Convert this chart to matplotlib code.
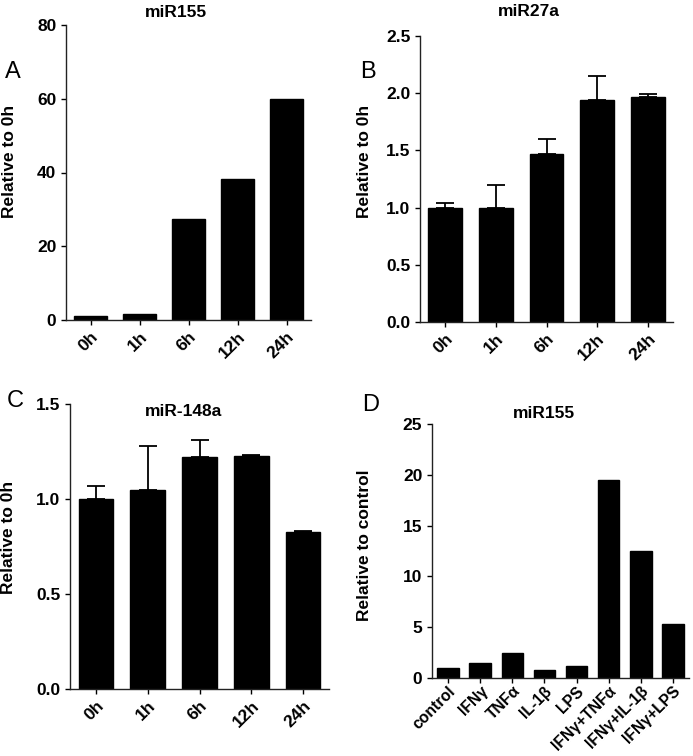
import matplotlib
matplotlib.use("Agg")
import matplotlib.pyplot as plt
import numpy as np

plt.rcParams['font.family'] = ['Liberation Sans', 'DejaVu Sans']
plt.rcParams['font.weight'] = 'bold'

time_labels = ['0h', '1h', '6h', '12h', '24h']

a_values = [1.0, 1.6, 27.5, 38.3, 60.0]

b_values = [1.00, 1.00, 1.47, 1.94, 1.97]
b_err = [0.04, 0.20, 0.13, 0.21, 0.02]

c_values = [1.00, 1.05, 1.22, 1.225, 0.825]
c_err = [0.07, 0.23, 0.09, 0.005, 0.004]

d_labels = ['control', 'IFNγ', 'TNFα', 'IL-1β', 'LPS',
            'IFNγ+TNFα', 'IFNγ+IL-1β', 'IFNγ+LPS']
d_values = [1.0, 1.45, 2.45, 0.8, 1.2, 19.5, 12.5, 5.3]

W, H = 693, 756
fig = plt.figure(figsize=(W/100, H/100), dpi=100)


def px_axes(left, right, top, bottom):
    return fig.add_axes([left/W, (H-bottom)/H, (right-left)/W, (bottom-top)/H])


def style(ax, labels, ylim, yticks, ylabel, fs=12.5):
    for s in ['top', 'right']:
        ax.spines[s].set_visible(False)
    for s in ['left', 'bottom']:
        ax.spines[s].set_linewidth(1.0)
        ax.spines[s].set_color('#222222')
    ax.set_xlim(-0.5, len(labels) - 0.5)
    ax.set_ylim(*ylim)
    ax.set_yticks(yticks)
    ax.set_xticks(np.arange(len(labels)))
    ax.set_xticklabels(labels, rotation=45, ha='right', rotation_mode='anchor',
                       fontsize=fs, fontweight='bold')
    ax.tick_params(axis='both', direction='out', length=3.5, width=1.0,
                   labelsize=12.5, colors='black')
    ax.tick_params(axis='x', labelsize=fs, pad=3)
    for t in ax.get_yticklabels():
        t.set_fontweight('bold')
    ax.set_ylabel(ylabel, fontsize=12.5, fontweight='bold')


def bars(ax, vals, err=None):
    x = np.arange(len(vals))
    ax.bar(x, vals, width=0.67, color='black', edgecolor='black', zorder=2)
    if err is not None:
        ax.errorbar(x, vals, yerr=[np.zeros(len(err)), err], fmt='none',
                    ecolor='black', elinewidth=1.3, capsize=6.5, capthick=1.3,
                    zorder=1)


# Panel A
axA = px_axes(66, 311, 25, 320)
bars(axA, a_values)
style(axA, time_labels, (0, 80), [0, 20, 40, 60, 80], 'Relative to 0h')
axA.yaxis.set_label_coords(-0.2, 0.536)
axA.text(0.449, 1.044, 'miR155', transform=axA.transAxes, ha='center',
         va='center', fontsize=12.5, fontweight='bold')

# Panel B
axB = px_axes(420, 673, 36, 322)
bars(axB, b_values, b_err)
style(axB, time_labels, (0, 2.5), [0.0, 0.5, 1.0, 1.5, 2.0, 2.5], 'Relative to 0h')
axB.set_yticklabels(['0.0', '0.5', '1.0', '1.5', '2.0', '2.5'], fontweight='bold')
axB.yaxis.set_label_coords(-0.19, 0.56)
axB.text(0.43, 1.084, 'miR27a', transform=axB.transAxes, ha='center',
         va='center', fontsize=12.5, fontweight='bold')

# Panel C
axC = px_axes(70, 329, 404, 689)
bars(axC, c_values, c_err)
style(axC, time_labels, (0, 1.5), [0.0, 0.5, 1.0, 1.5], 'Relative to 0h')
axC.set_yticklabels(['0.0', '0.5', '1.0', '1.5'], fontweight='bold')
axC.yaxis.set_label_coords(-0.21, 0.533)
axC.text(0.44, 0.975, 'miR-148a', transform=axC.transAxes, ha='center',
         va='center', fontsize=12.5, fontweight='bold')

# Panel D
axD = px_axes(432, 689, 424, 678)
bars(axD, d_values)
style(axD, d_labels, (0, 25), [0, 5, 10, 15, 20, 25], 'Relative to control', fs=11.3)
axD.tick_params(axis='x', pad=0.5)
axD.yaxis.set_label_coords(-0.233, 0.524)
axD.text(0.436, 1.043, 'miR155', transform=axD.transAxes, ha='center',
         va='center', fontsize=12.5, fontweight='bold')

# Panel letters
for letter, x, y in [('A', 13, 72), ('B', 368, 72), ('C', 15, 401), ('D', 371, 405)]:
    fig.text(x/W, (H-y)/H, letter, ha='center', va='center', fontsize=17,
             fontweight='normal')

fig.savefig('out.png', dpi=100, facecolor='white')
